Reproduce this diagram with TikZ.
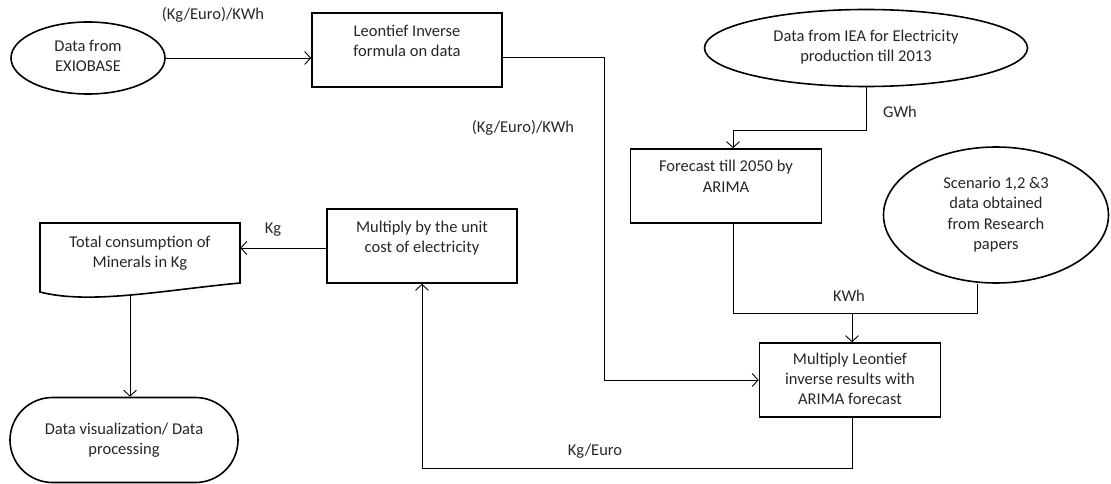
\documentclass[tikz,border=0pt]{standalone}
\usepackage{fontspec}
\setmainfont{Carlito}
\usetikzlibrary{shapes.geometric,shapes.misc,arrows.meta,calc}
\newcommand\mylines[1]{\begin{tabular}{@{}c@{}}#1\end{tabular}}
\begin{document}
\begin{tikzpicture}[x=1pt,y=-1pt,
  every node/.style={font=\fontsize{16.5}{20}\selectfont, text=black!85},
  boxnode/.style={draw, line width=1.6pt, minimum height=74pt, inner sep=0pt},
  ell/.style={draw, ellipse, line width=1.6pt, inner sep=0pt},
  conn/.style={draw, line width=0.9pt, -{Straight Barb[length=6pt,width=13pt]}},
  line/.style={draw, line width=0.9pt},
  lab/.style={inner sep=0pt}]
\useasboundingbox (0,0) rectangle (1111,484);

% nodes
\node[ell, minimum width=154pt, minimum height=72pt] (exio) at (88,58) {\mylines{Data from\\EXIOBASE}};
\node[boxnode, minimum width=190pt] (leon) at (407,50) {\mylines{Leontief Inverse\\formula on data\\[14pt]}};
\node[ell, minimum width=323pt, minimum height=77pt] (iea) at (866,48) {\mylines{Data from IEA for Electricity\\production till 2013}};
\node[boxnode, minimum width=191pt] (fore) at (726,186) {\mylines{Forecast till 2050 by\\ARIMA\\[16pt]}};
\node[ell, minimum width=225pt, minimum height=136pt] (scen) at (996,215) {\mylines{Scenario 1,2 \&3\\data obtained\\from Research\\papers}};
\node[boxnode, minimum width=181pt] (mleon) at (850,380) {\mylines{Multiply Leontief\\inverse results with\\ARIMA forecast}};
\node[boxnode, minimum width=190pt] (unit) at (422,246) {\mylines{Multiply by the unit\\cost of electricity\\[16pt]}};
\node[minimum width=200pt, minimum height=60pt, inner sep=0pt] (total) at (140,253) {\mylines{Total consumption of\\Minerals in Kg}};
\draw[line width=1.6pt] (40,223) -- (240,223) -- (240,283)
   .. controls (165,290) and (90,305) .. (40,292) -- cycle;
\node[draw, rounded rectangle, line width=1.6pt, minimum width=228pt, minimum height=85pt, inner sep=0pt] (viz) at (124,440) {\mylines{Data visualization/ Data\\processing}};

% labels
\node[lab] (l1) at (213,15) {(Kg/Euro)/KWh};
\node[lab] (l2) at (523,128) {(Kg/Euro)/KWh};
\node[lab] (l3) at (900,112) {GWh};
\node[lab] (l4) at (849,296) {KWh};
\node[lab] (l5) at (595,451) {Kg/Euro};
\node[lab] (l6) at (273,230) {Kg};

% connectors
\coordinate (c1) at (604,0);
\coordinate (c2) at (0,130);
\coordinate (join) at (852,313);
\coordinate (c3) at (0,468);
\coordinate (tb) at (130,295);

\draw[conn] (exio.east) -- (exio.east -| leon.west);
\draw[conn] ([yshift=-7pt]leon.east) -| (c1 |- mleon.west) -- (mleon.west);
\draw[conn] (iea.south) |- ([xshift=7pt]fore.north |- c2) -- ([xshift=7pt]fore.north);
\draw[line] ([xshift=7pt]fore.south) |- (join);
\draw[line] ([xshift=-19pt]scen.south) |- (join);
\draw[conn] (join) -- (join |- mleon.north);
\draw[conn] ([xshift=2pt]mleon.south) |- (unit.south |- c3) -- (unit.south);
\draw[conn] ([yshift=-2pt]unit.west) -- ([yshift=-2pt]unit.west -| total.east);
\draw[conn] (tb) -- (tb |- viz.north);
\end{tikzpicture}
\end{document}
